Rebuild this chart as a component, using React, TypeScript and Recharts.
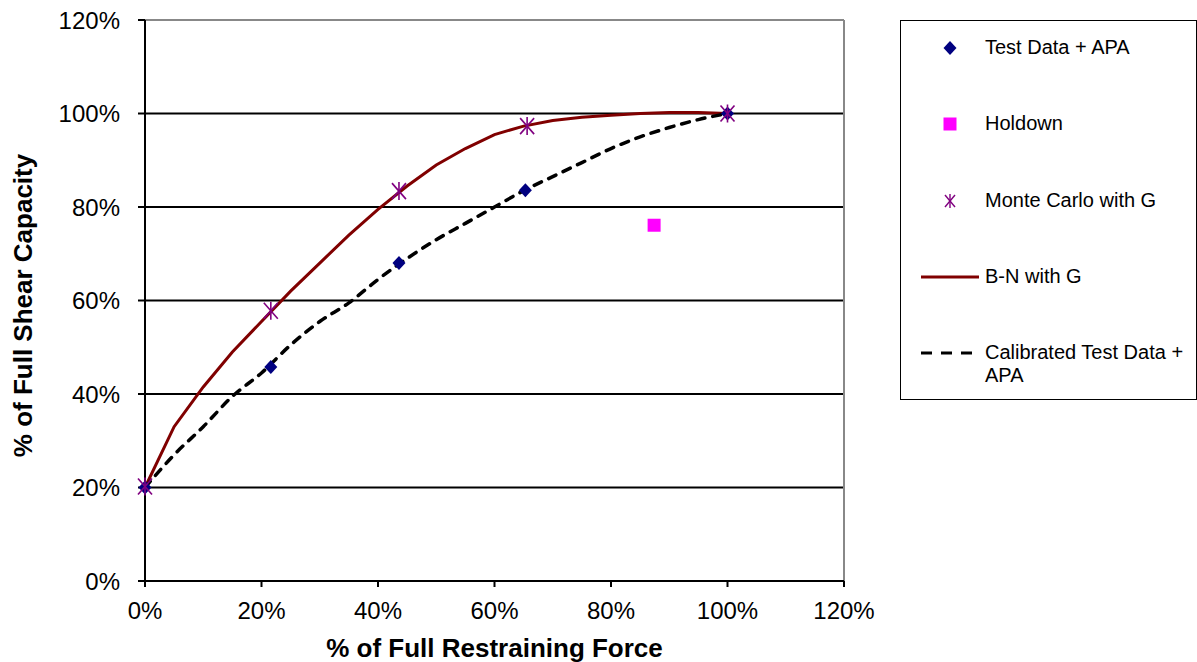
import { ComposedChart, Line, Scatter, XAxis, YAxis, CartesianGrid, ReferenceLine, Legend } from 'recharts';

const FONT = '"Liberation Sans", Arial, sans-serif';

// % of full restraining force (x) vs % of full shear capacity (y)
const testData = [
  { x: 0, y: 20 },
  { x: 21.6, y: 45.8 },
  { x: 43.6, y: 68 },
  { x: 65.3, y: 83.6 },
  { x: 100, y: 100 },
];

const holdown = [{ x: 87.4, y: 76.1 }];

const monteCarlo = [
  { x: 0, y: 20.2 },
  { x: 21.6, y: 57.8 },
  { x: 43.6, y: 83.4 },
  { x: 65.6, y: 97.3 },
  { x: 100, y: 100 },
];

const bnWithG = [
  { x: 0, y: 20 }, { x: 5, y: 33 }, { x: 10, y: 41.5 }, { x: 15, y: 49 },
  { x: 20, y: 55.5 }, { x: 25, y: 62 }, { x: 30, y: 68 }, { x: 35, y: 74 },
  { x: 40, y: 79.5 }, { x: 45, y: 84.5 }, { x: 50, y: 89 }, { x: 55, y: 92.5 },
  { x: 60, y: 95.5 }, { x: 65, y: 97.3 }, { x: 70, y: 98.5 }, { x: 75, y: 99.2 },
  { x: 80, y: 99.6 }, { x: 85, y: 100 }, { x: 90, y: 100.2 }, { x: 95, y: 100.2 },
  { x: 100, y: 100 },
];

const calibrated = [
  { x: 0, y: 20 }, { x: 5, y: 27 }, { x: 10, y: 33 }, { x: 15, y: 39.5 },
  { x: 20, y: 44.5 }, { x: 25, y: 50.5 }, { x: 30, y: 55.5 }, { x: 35, y: 59.5 },
  { x: 40, y: 64.5 }, { x: 45, y: 69 }, { x: 50, y: 73 }, { x: 55, y: 76.5 },
  { x: 60, y: 80 }, { x: 65, y: 83.5 }, { x: 70, y: 86.5 }, { x: 75, y: 89.5 },
  { x: 80, y: 92.5 }, { x: 85, y: 95 }, { x: 90, y: 97 }, { x: 95, y: 98.7 },
  { x: 100, y: 100 },
];

const ticks = [0, 20, 40, 60, 80, 100, 120];

const legendItems = [
  { name: 'Test Data + APA', kind: 'diamond' },
  { name: 'Holdown', kind: 'square' },
  { name: 'Monte Carlo with G', kind: 'star' },
  { name: 'B-N with G', kind: 'solid' },
  { name: 'Calibrated Test Data + APA', kind: 'dash' },
];

const Diamond = (props: any) => {
  const { cx, cy } = props;
  return <path d={`M${cx},${cy - 7} L${cx + 6.5},${cy} L${cx},${cy + 7} L${cx - 6.5},${cy} Z`} fill="#000080" />;
};

const Square = (props: any) => {
  const { cx, cy } = props;
  return <rect x={cx - 6.5} y={cy - 6.5} width={13} height={13} fill="#FF00FF" />;
};

const Star = (props: any) => {
  const { cx, cy } = props;
  return (
    <g stroke="#800080" strokeWidth={1.6}>
      <line x1={cx - 7} y1={cy - 8} x2={cx + 7} y2={cy + 8} />
      <line x1={cx - 7} y1={cy + 8} x2={cx + 7} y2={cy - 8} />
      <line x1={cx} y1={cy - 9} x2={cx} y2={cy + 9} />
    </g>
  );
};

function LegendIcon({ kind }: { kind: string }) {
  return (
    <svg width={62} height={24} style={{ position: 'absolute', left: 18, top: 0 }}>
      {kind === 'diamond' && <Diamond cx={31} cy={12} />}
      {kind === 'square' && <Square cx={31} cy={12} />}
      {kind === 'star' && (
        <g stroke="#800080" strokeWidth={1.4}>
          <line x1={26} y1={6} x2={36} y2={18} />
          <line x1={26} y1={18} x2={36} y2={6} />
          <line x1={31} y1={5} x2={31} y2={19} />
        </g>
      )}
      {kind === 'solid' && <line x1={2} y1={12} x2={60} y2={12} stroke="#800000" strokeWidth={3} />}
      {kind === 'dash' && <line x1={2} y1={12} x2={60} y2={12} stroke="#000" strokeWidth={3} strokeDasharray="11 9" />}
    </svg>
  );
}

function LegendBox() {
  return (
    <div
      style={{
        width: 297,
        height: 380,
        boxSizing: 'border-box',
        border: '1px solid #000',
        position: 'relative',
        fontFamily: FONT,
        fontSize: 20,
        color: '#000',
        background: '#fff',
      }}
    >
      {legendItems.map((item, i) => (
        <div key={item.name} style={{ position: 'absolute', left: 0, top: 15 + i * 76.3, width: '100%' }}>
          <LegendIcon kind={item.kind} />
          <div style={{ position: 'absolute', left: 84, top: 0, lineHeight: '23px', width: 200 }}>{item.name}</div>
        </div>
      ))}
    </div>
  );
}

const pct = (v: number) => `${v}%`;

export default function App() {
  return (
    <div style={{ position: 'absolute', left: 0, top: 0, width: 1197, height: 662, background: '#fff' }}>
      <ComposedChart
        width={1197}
        height={662}
        margin={{ top: 20, right: 56, bottom: 0, left: 0 }}
        style={{ fontFamily: FONT }}
      >
        <CartesianGrid horizontal vertical={false} stroke="#000" strokeWidth={2} />
        <XAxis
          type="number"
          dataKey="x"
          domain={[0, 120]}
          ticks={ticks}
          tickFormatter={pct}
          height={81}
          tickSize={6}
          tickMargin={15}
          interval={0}
          axisLine={{ stroke: '#000', strokeWidth: 2 }}
          tickLine={{ stroke: '#000', strokeWidth: 2 }}
          tick={{ fill: '#000', fontSize: 24 }}
          label={{
            value: '% of Full Restraining Force',
            position: 'insideBottom',
            offset: 5,
            fill: '#000',
            fontSize: 26,
            fontWeight: 'bold',
          }}
        />
        <YAxis
          type="number"
          dataKey="y"
          domain={[0, 120]}
          ticks={ticks}
          tickFormatter={pct}
          width={145}
          tickSize={7}
          tickMargin={18}
          interval={0}
          axisLine={{ stroke: '#000', strokeWidth: 2 }}
          tickLine={{ stroke: '#000', strokeWidth: 2 }}
          tick={{ fill: '#000', fontSize: 24 }}
          label={{
            value: '% of Full Shear Capacity',
            position: 'center',
            angle: -90,
            dx: -50,
            dy: 5,
            fill: '#000',
            fontSize: 26,
            fontWeight: 'bold',
          }}
        />
        <ReferenceLine y={120} stroke="#888" strokeWidth={2} />
        <ReferenceLine x={120} stroke="#888" strokeWidth={2} />
        <Line
          data={bnWithG}
          dataKey="y"
          name="B-N with G"
          type="linear"
          stroke="#800000"
          strokeWidth={3}
          dot={false}
          activeDot={false}
          isAnimationActive={false}
        />
        <Line
          data={calibrated}
          dataKey="y"
          name="Calibrated Test Data + APA"
          type="monotone"
          stroke="#000"
          strokeWidth={3.5}
          strokeDasharray="8 8"
          strokeLinecap="round"
          dot={false}
          activeDot={false}
          isAnimationActive={false}
        />
        <Scatter data={testData} dataKey="y" name="Test Data + APA" shape={Diamond} isAnimationActive={false} />
        <Scatter data={holdown} dataKey="y" name="Holdown" shape={Square} isAnimationActive={false} />
        <Scatter data={monteCarlo} dataKey="y" name="Monte Carlo with G" shape={Star} isAnimationActive={false} />
        <Legend
          layout="vertical"
          align="right"
          verticalAlign="top"
          content={() => <LegendBox />}
          wrapperStyle={{ left: 900, top: 20, width: 297, height: 380 }}
        />
      </ComposedChart>
    </div>
  );
}
